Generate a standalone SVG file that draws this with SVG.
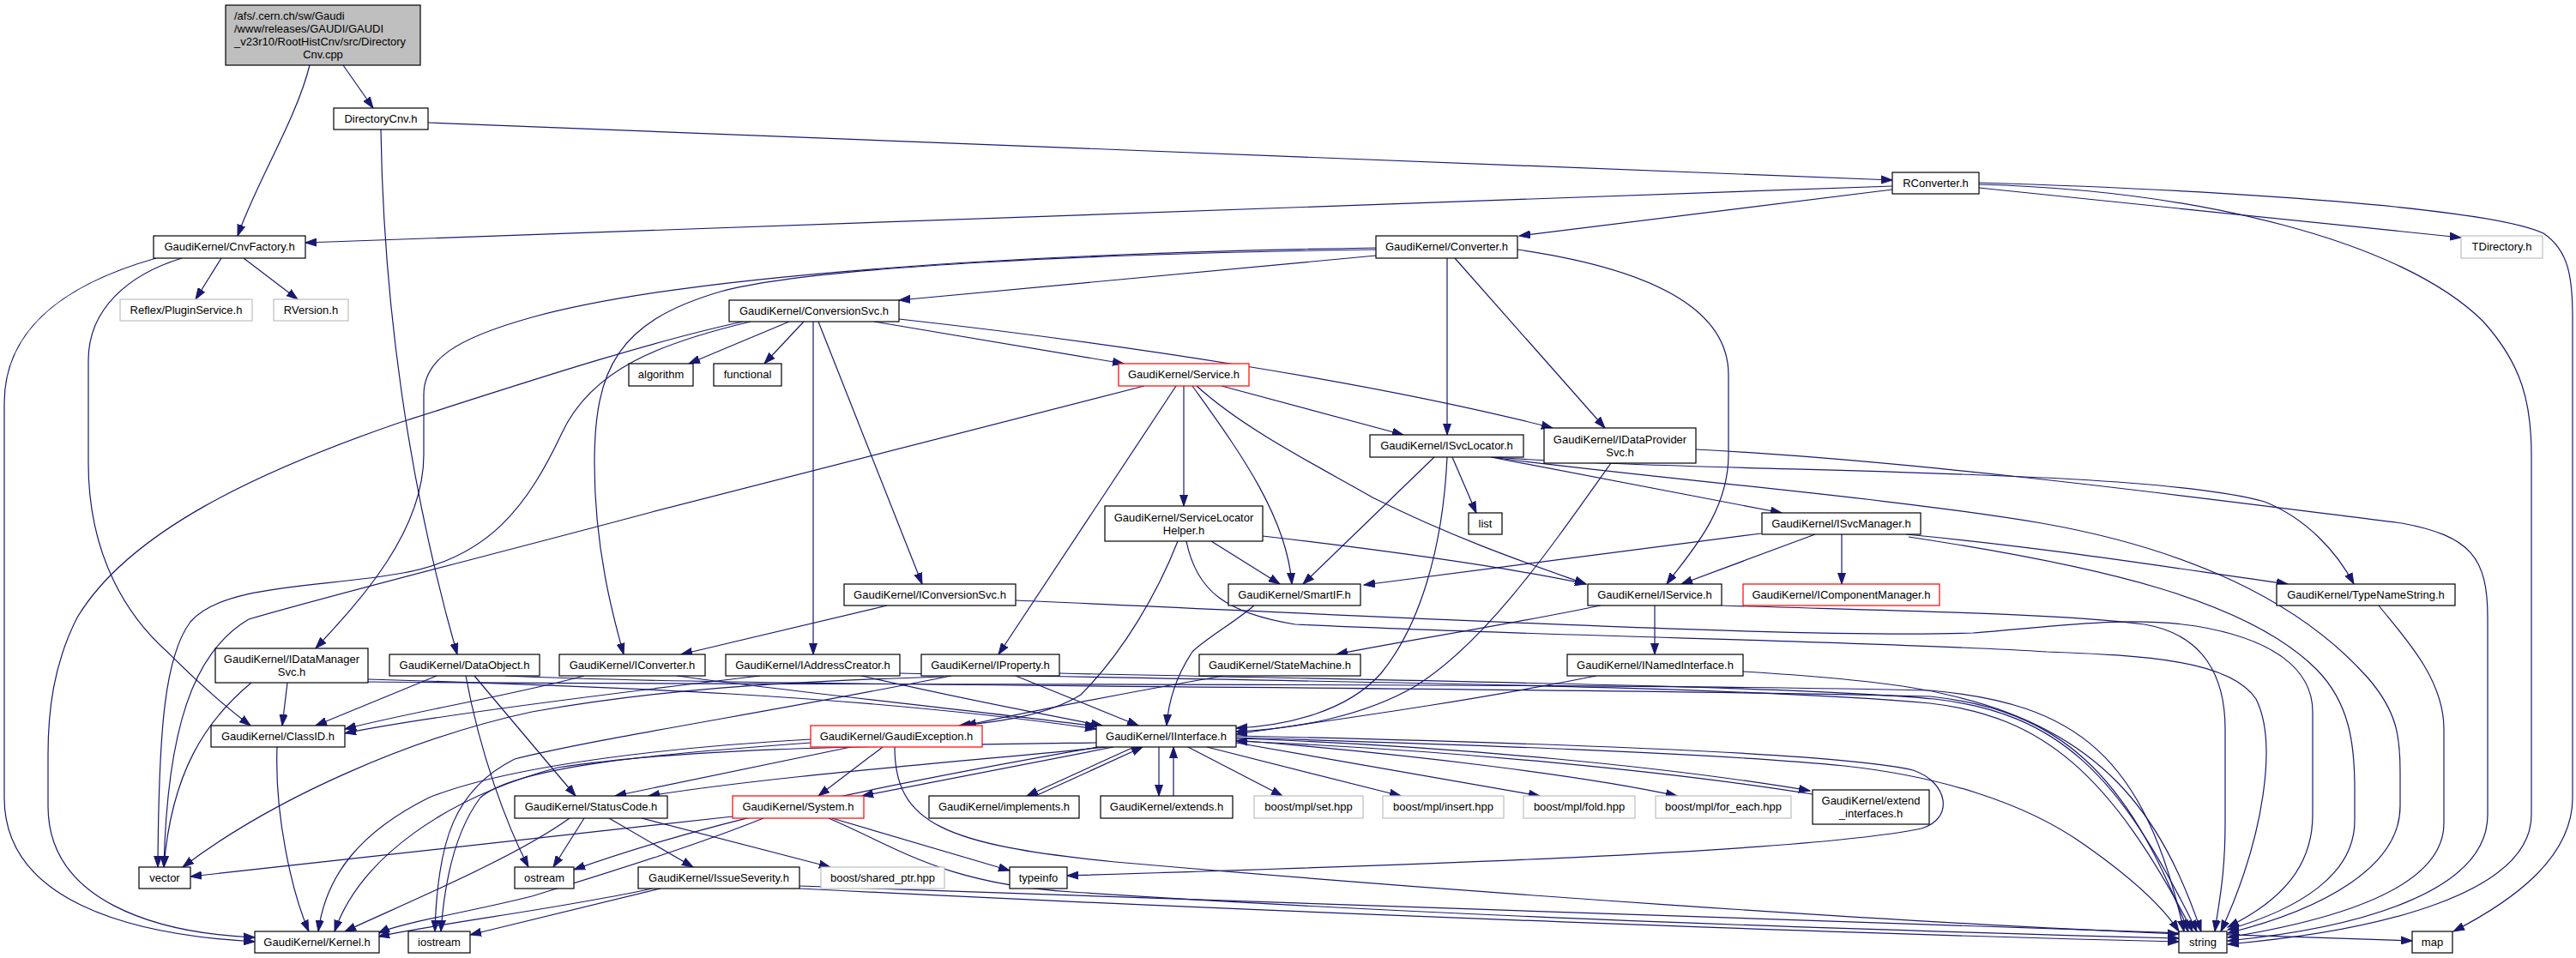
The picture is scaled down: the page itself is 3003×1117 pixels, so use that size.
<svg xmlns="http://www.w3.org/2000/svg" width="3003" height="1117" viewBox="0 0 3003 1117">
<defs>
<marker id="ah" markerUnits="userSpaceOnUse" markerWidth="14" markerHeight="10" viewBox="0 0 14 10" refX="13" refY="5" orient="auto"><path d="M0,0.5 L13,5 L0,9.5 Z" fill="#191970" stroke="#191970" stroke-width="1"/></marker>
<style>
.node rect{fill:#ffffff;stroke:#000000;stroke-width:1.2}
.gray rect{stroke:#bfbfbf}
.red rect{stroke:#ff0000}
.root rect{fill:#bfbfbf}
text{font-family:"Liberation Sans",Arial,Helvetica,sans-serif;font-size:13px;fill:#000000;text-anchor:middle}
text.l{text-anchor:start}
#edges path{fill:none;stroke:#191970;stroke-width:1.2;marker-end:url(#ah)}
</style>
</defs>
<rect x="0" y="0" width="3003" height="1117" fill="#ffffff"/>
<g id="edges">
<path d="M361,76 C345,140 300,210 277,275"/>
<path d="M400,76 L435,126"/>
<path d="M499,143 L2206,210"/>
<path d="M444,151 C447,350 475,560 533,763"/>
<path d="M2206,217 L356,283"/>
<path d="M2206,221 L1771,275"/>
<path d="M2307,219 L2869,277"/>
<path d="M2307,215 C2560,222 2800,280 2895,375 C2940,425 2951,470 2951,530 L2951,950 C2951,1040 2780,1085 2597,1101"/>
<path d="M2307,213 C2600,222 2900,242 2965,272 C2995,292 2999,325 2999,370 L2999,930 C2999,1000 2930,1050 2860,1086"/>
<path d="M258,301 L228,349"/>
<path d="M284,301 L347,349"/>
<path d="M182,301 C80,330 5,380 5,470 L5,930 C5,1050 150,1090 297,1098"/>
<path d="M212,301 C150,320 103,360 103,420 L103,540 C103,650 150,720 195,760 C225,790 260,822 292,846"/>
<path d="M1604,298 L1048,350"/>
<path d="M1687,301 L1687,507"/>
<path d="M1696,301 L1871,499"/>
<path d="M1769,291 C1900,310 2015,350 2015,437 L2015,530 C2015,600 1965,650 1943,681"/>
<path d="M1604,291 C1300,295 950,310 840,340 C720,375 693,430 693,540 C693,640 715,720 727,763"/>
<path d="M1604,289 C1200,295 800,320 620,370 C530,395 494,420 494,460 L494,530 C494,620 420,700 368,756"/>
<path d="M920,375 L803,424"/>
<path d="M937,375 L891,424"/>
<path d="M1019,375 L1310,424"/>
<path d="M954,375 L1075,681"/>
<path d="M948,375 L948,763"/>
<path d="M1048,372 C1300,400 1600,445 1810,499"/>
<path d="M866,375 C750,400 600,450 465,493 C300,550 150,620 90,720 C62,775 56,830 56,880 L56,940 C56,1050 180,1088 297,1093"/>
<path d="M875,375 C770,400 690,430 655,505 C615,590 570,650 470,668 C380,685 260,680 222,725 C192,765 185,850 184,1011"/>
<path d="M1424,450 L1636,507"/>
<path d="M1395,450 C1450,500 1530,540 1600,580 C1700,630 1790,660 1849,681"/>
<path d="M1390,450 C1440,520 1500,600 1506,681"/>
<path d="M1380,450 L1380,590"/>
<path d="M1371,450 L1164,763"/>
<path d="M1334,450 L760,597 C600,640 400,690 290,722 C225,760 195,850 191,1011"/>
<path d="M1672,533 L1519,681"/>
<path d="M1687,533 C1682,640 1655,730 1610,785 C1570,830 1500,846 1441,849"/>
<path d="M1693,533 L1721,598"/>
<path d="M1738,533 L2077,598"/>
<path d="M1740,533 C2000,552 2500,545 2640,585 C2690,605 2725,645 2744,681"/>
<path d="M1745,534 C1950,560 2200,580 2380,610 C2550,640 2680,700 2760,790 C2795,830 2798,860 2798,900 L2798,940 C2798,1010 2710,1060 2597,1088"/>
<path d="M1878,540 C1800,650 1730,750 1650,800 C1590,835 1510,850 1441,853"/>
<path d="M1977,524 C2250,538 2600,585 2800,610 C2880,625 2900,650 2900,720 L2900,950 C2900,1040 2750,1082 2597,1097"/>
<path d="M1412,631 L1492,681"/>
<path d="M1472,625 C1600,640 1750,660 1849,681"/>
<path d="M1373,631 C1350,690 1310,760 1260,810 C1220,835 1160,842 1118,846"/>
<path d="M1383,631 C1395,690 1430,715 1510,728 C1800,742 2200,748 2386,760 C2500,764 2600,770 2630,815 C2655,865 2640,975 2589,1086"/>
<path d="M2053,622 L1590,682"/>
<path d="M2116,623 L1960,681"/>
<path d="M2147,623 L2147,681"/>
<path d="M2222,623 C2400,640 2550,665 2667,681"/>
<path d="M2225,626 C2450,660 2620,700 2700,780 C2740,820 2745,870 2745,920 L2745,957 C2745,1020 2680,1060 2597,1084"/>
<path d="M1034,706 L794,763"/>
<path d="M1184,700 C1600,718 2100,745 2300,738 C2400,730 2480,718 2560,730 C2650,745 2696,780 2696,830 L2696,950 C2696,1010 2660,1050 2597,1081"/>
<path d="M1462,706 C1440,725 1405,745 1390,760 C1370,790 1362,820 1360,846"/>
<path d="M1866,706 C1750,730 1620,750 1558,763"/>
<path d="M1929,706 L1929,763"/>
<path d="M2007,706 C2200,712 2400,715 2500,728 C2570,740 2594,790 2594,850 L2594,960 C2594,1020 2587,1050 2582,1086"/>
<path d="M2773,706 C2800,740 2849,790 2849,850 L2849,960 C2849,1030 2740,1070 2597,1093"/>
<path d="M335,796 L329,846"/>
<path d="M293,796 C240,840 200,900 191,1011"/>
<path d="M429,792 C700,800 1000,810 1278,850"/>
<path d="M429,795 C1000,800 1800,795 2250,805 C2420,820 2500,880 2546,1086"/>
<path d="M509,788 L368,846"/>
<path d="M553,788 L671,928"/>
<path d="M543,788 C560,880 590,960 616,1011"/>
<path d="M589,788 C900,802 1800,800 2250,812 C2400,828 2480,900 2551,1086"/>
<path d="M681,788 C600,810 480,830 402,850"/>
<path d="M789,788 C950,810 1150,830 1278,847"/>
<path d="M886,788 C700,810 500,835 402,855"/>
<path d="M1004,788 C1100,810 1200,830 1285,846"/>
<path d="M1049,785 C1500,795 2000,798 2250,820 C2380,835 2460,900 2556,1086"/>
<path d="M1184,788 L1327,846"/>
<path d="M1235,785 C1700,795 2100,800 2255,815 C2400,832 2470,900 2561,1086"/>
<path d="M1100,789 C900,795 760,805 620,830 C480,860 320,930 213,1011"/>
<path d="M1109,788 C900,830 700,860 600,885 C530,920 510,980 507,1086"/>
<path d="M1426,788 C1300,810 1200,830 1125,846"/>
<path d="M1861,788 C1700,820 1550,840 1441,856"/>
<path d="M2032,783 C2150,790 2230,800 2270,810 C2450,850 2520,950 2566,1086"/>
<path d="M323,871 C320,950 340,1040 360,1086"/>
<path d="M945,862 C800,870 600,890 500,930 C420,970 380,1020 371,1086"/>
<path d="M992,871 L717,928"/>
<path d="M1029,871 L954,928"/>
<path d="M1043,871 C1043,960 1100,985 1300,1005 C1700,1040 2200,1075 2540,1089"/>
<path d="M945,866 C750,880 600,895 560,930 C530,970 518,1030 514,1086"/>
<path d="M1278,866 C1000,870 800,872 650,895 C520,930 420,1000 390,1086"/>
<path d="M1290,871 C1100,890 900,905 756,928"/>
<path d="M1298,871 L1005,928"/>
<path d="M1322,871 L1197,928"/>
<path d="M1351,871 L1351,928"/>
<path d="M1385,871 L1495,928"/>
<path d="M1407,871 L1633,928"/>
<path d="M1441,866 L1795,928"/>
<path d="M1441,863 C1650,880 1850,905 1955,928"/>
<path d="M1441,861 C1700,870 1950,895 2110,922"/>
<path d="M1441,858 C1800,866 2150,878 2230,898 C2272,912 2278,955 2240,966 C2100,995 1600,1010 1244,1021"/>
<path d="M1441,860 C1700,868 2000,878 2150,893 C2260,905 2360,935 2430,985 C2480,1020 2520,1055 2540,1086"/>
<path d="M1280,871 C1000,920 820,960 669,1014"/>
<path d="M1207,928 L1332,871"/>
<path d="M1368,928 L1368,871"/>
<path d="M2113,926 C1950,900 1700,875 1441,864"/>
<path d="M664,954 C600,1000 480,1050 402,1086"/>
<path d="M681,954 L645,1011"/>
<path d="M710,954 L808,1011"/>
<path d="M748,954 L968,1011"/>
<path d="M890,954 C800,990 700,1020 620,1045 C540,1065 470,1075 441,1088"/>
<path d="M854,952 L222,1022"/>
<path d="M970,954 L1177,1015"/>
<path d="M966,954 C1050,990 1100,1030 1250,1040 C1700,1070 2200,1085 2540,1094"/>
<path d="M760,1036 C650,1060 520,1075 441,1092"/>
<path d="M770,1036 L548,1090"/>
<path d="M932,1036 C1500,1065 2200,1090 2540,1098"/>
<path d="M932,1033 C1500,1055 2400,1080 2812,1097"/>
</g>
<g id="n_root" class="node root"><rect x="263" y="6" width="227" height="70"/><text class="l" x="273" y="23">/afs/.cern.ch/sw/Gaudi</text><text class="l" x="273" y="38">/www/releases/GAUDI/GAUDI</text><text class="l" x="273" y="53">_v23r10/RootHistCnv/src/Directory</text><text x="376.5" y="68">Cnv.cpp</text></g>
<g id="n_dircnv" class="node"><rect x="389" y="126" width="110" height="25"/><text x="444" y="143">DirectoryCnv.h</text></g>
<g id="n_cnvfac" class="node"><rect x="179" y="275" width="177" height="26"/><text x="267.5" y="292">GaudiKernel/CnvFactory.h</text></g>
<g id="n_reflex" class="node gray"><rect x="140" y="349" width="154" height="25"/><text x="217" y="366">Reflex/PluginService.h</text></g>
<g id="n_rversion" class="node gray"><rect x="319" y="349" width="87" height="25"/><text x="362.5" y="366">RVersion.h</text></g>
<g id="n_rconv" class="node"><rect x="2206" y="201" width="101" height="25"/><text x="2256.5" y="218">RConverter.h</text></g>
<g id="n_converter" class="node"><rect x="1604" y="275" width="165" height="26"/><text x="1686.5" y="292">GaudiKernel/Converter.h</text></g>
<g id="n_tdir" class="node gray"><rect x="2869" y="275" width="95" height="26"/><text x="2916.5" y="292">TDirectory.h</text></g>
<g id="n_convsvc" class="node"><rect x="850" y="350" width="198" height="25"/><text x="949" y="367">GaudiKernel/ConversionSvc.h</text></g>
<g id="n_algorithm" class="node"><rect x="733" y="424" width="75" height="26"/><text x="770.5" y="441">algorithm</text></g>
<g id="n_functional" class="node"><rect x="832" y="424" width="79" height="26"/><text x="871.5" y="441">functional</text></g>
<g id="n_service" class="node red"><rect x="1304" y="424" width="152" height="26"/><text x="1380" y="441">GaudiKernel/Service.h</text></g>
<g id="n_isvcloc" class="node"><rect x="1597" y="507" width="179" height="26"/><text x="1686.5" y="524">GaudiKernel/ISvcLocator.h</text></g>
<g id="n_idps" class="node"><rect x="1800" y="499" width="177" height="41"/><text x="1888.5" y="516.5">GaudiKernel/IDataProvider</text><text x="1888.5" y="531.5">Svc.h</text></g>
<g id="n_list" class="node"><rect x="1712" y="598" width="39" height="25"/><text x="1731.5" y="615">list</text></g>
<g id="n_islh" class="node"><rect x="1288" y="590" width="184" height="41"/><text x="1380" y="607.5">GaudiKernel/ServiceLocator</text><text x="1380" y="622.5">Helper.h</text></g>
<g id="n_isvcmgr" class="node"><rect x="2054" y="598" width="185" height="25"/><text x="2146.5" y="615">GaudiKernel/ISvcManager.h</text></g>
<g id="n_iconvsvc" class="node"><rect x="984" y="681" width="200" height="25"/><text x="1084" y="698">GaudiKernel/IConversionSvc.h</text></g>
<g id="n_smartif" class="node"><rect x="1432" y="681" width="154" height="25"/><text x="1509" y="698">GaudiKernel/SmartIF.h</text></g>
<g id="n_iservice" class="node"><rect x="1851" y="681" width="156" height="25"/><text x="1929" y="698">GaudiKernel/IService.h</text></g>
<g id="n_icompmgr" class="node red"><rect x="2032" y="681" width="229" height="25"/><text x="2146.5" y="698">GaudiKernel/IComponentManager.h</text></g>
<g id="n_typename" class="node"><rect x="2654" y="681" width="208" height="25"/><text x="2758" y="698">GaudiKernel/TypeNameString.h</text></g>
<g id="n_idms" class="node"><rect x="251" y="756" width="178" height="40"/><text x="340" y="772.5">GaudiKernel/IDataManager</text><text x="340" y="787.5">Svc.h</text></g>
<g id="n_dataobj" class="node"><rect x="454" y="763" width="175" height="25"/><text x="541.5" y="780">GaudiKernel/DataObject.h</text></g>
<g id="n_iconverter" class="node"><rect x="652" y="763" width="170" height="25"/><text x="737" y="780">GaudiKernel/IConverter.h</text></g>
<g id="n_iaddr" class="node"><rect x="846" y="763" width="203" height="25"/><text x="947.5" y="780">GaudiKernel/IAddressCreator.h</text></g>
<g id="n_iprop" class="node"><rect x="1074" y="763" width="161" height="25"/><text x="1154.5" y="780">GaudiKernel/IProperty.h</text></g>
<g id="n_statemach" class="node"><rect x="1398" y="763" width="188" height="25"/><text x="1492" y="780">GaudiKernel/StateMachine.h</text></g>
<g id="n_inamed" class="node"><rect x="1827" y="763" width="205" height="25"/><text x="1929.5" y="780">GaudiKernel/INamedInterface.h</text></g>
<g id="n_classid" class="node"><rect x="246" y="846" width="156" height="25"/><text x="324" y="863">GaudiKernel/ClassID.h</text></g>
<g id="n_gexc" class="node red"><rect x="945" y="846" width="200" height="25"/><text x="1045" y="863">GaudiKernel/GaudiException.h</text></g>
<g id="n_iinterface" class="node"><rect x="1278" y="846" width="163" height="25"/><text x="1359.5" y="863">GaudiKernel/IInterface.h</text></g>
<g id="n_statuscode" class="node"><rect x="600" y="928" width="178" height="26"/><text x="689" y="945">GaudiKernel/StatusCode.h</text></g>
<g id="n_system" class="node red"><rect x="854" y="928" width="153" height="26"/><text x="930.5" y="945">GaudiKernel/System.h</text></g>
<g id="n_implements" class="node"><rect x="1083" y="928" width="175" height="26"/><text x="1170.5" y="945">GaudiKernel/implements.h</text></g>
<g id="n_extends" class="node"><rect x="1283" y="928" width="154" height="26"/><text x="1360" y="945">GaudiKernel/extends.h</text></g>
<g id="n_mplset" class="node gray"><rect x="1462" y="928" width="127" height="26"/><text x="1525.5" y="945">boost/mpl/set.hpp</text></g>
<g id="n_mplinsert" class="node gray"><rect x="1612" y="928" width="141" height="26"/><text x="1682.5" y="945">boost/mpl/insert.hpp</text></g>
<g id="n_mplfold" class="node gray"><rect x="1776" y="928" width="130" height="26"/><text x="1841" y="945">boost/mpl/fold.hpp</text></g>
<g id="n_mplforeach" class="node gray"><rect x="1930" y="928" width="158" height="26"/><text x="2009" y="945">boost/mpl/for_each.hpp</text></g>
<g id="n_extintf" class="node"><rect x="2113" y="921" width="136" height="40"/><text x="2181" y="938">GaudiKernel/extend</text><text x="2181" y="953">_interfaces.h</text></g>
<g id="n_vector" class="node"><rect x="162" y="1011" width="60" height="25"/><text x="192" y="1028">vector</text></g>
<g id="n_ostream" class="node"><rect x="600" y="1011" width="69" height="25"/><text x="634.5" y="1028">ostream</text></g>
<g id="n_issue" class="node"><rect x="744" y="1011" width="188" height="25"/><text x="838" y="1028">GaudiKernel/IssueSeverity.h</text></g>
<g id="n_sharedptr" class="node gray"><rect x="957" y="1011" width="144" height="25"/><text x="1029" y="1028">boost/shared_ptr.hpp</text></g>
<g id="n_typeinfo" class="node"><rect x="1177" y="1011" width="67" height="25"/><text x="1210.5" y="1028">typeinfo</text></g>
<g id="n_kernel" class="node"><rect x="297" y="1086" width="145" height="25"/><text x="369.5" y="1103">GaudiKernel/Kernel.h</text></g>
<g id="n_iostream" class="node"><rect x="476" y="1086" width="72" height="25"/><text x="512" y="1103">iostream</text></g>
<g id="n_string" class="node"><rect x="2540" y="1086" width="56" height="25"/><text x="2568" y="1103">string</text></g>
<g id="n_map" class="node"><rect x="2812" y="1086" width="47" height="25"/><text x="2835.5" y="1103">map</text></g>
</svg>
